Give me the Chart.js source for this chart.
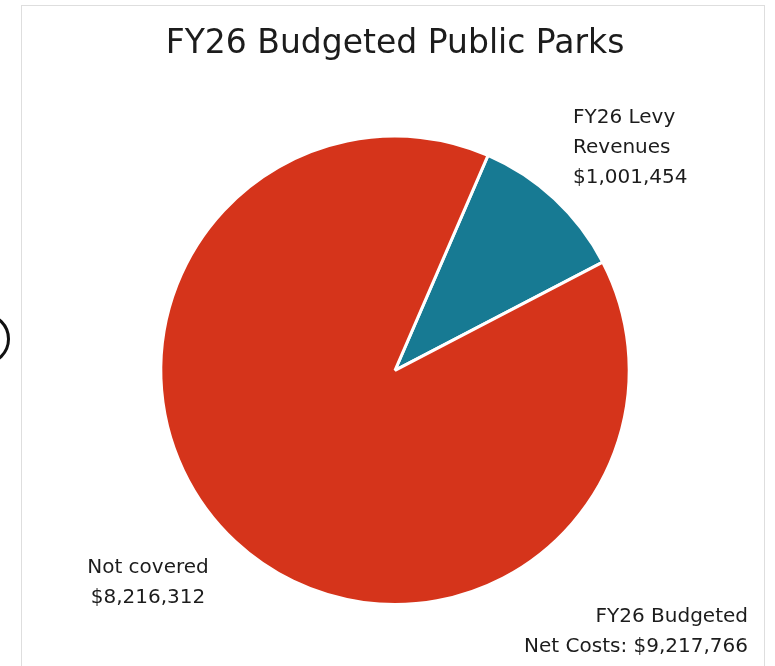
<!DOCTYPE html>
<html>
<head>
<meta charset="utf-8">
<script src="https://cdn.jsdelivr.net/npm/chart.js@4/dist/chart.umd.min.js"></script>
<style>
  html, body { margin: 0; padding: 0; background: #fff; overflow: hidden; }
  #wrap { position: relative; width: 775px; height: 666px; }
  #frame {
    position: absolute; left: 21px; top: 5px; width: 744px; height: 700px;
    border: 1px solid #dedede; box-sizing: border-box;
  }
  #dot {
    position: absolute; left: -42px; top: 313px; width: 46px; height: 46px;
    border: 3px solid #111; border-radius: 50%;
  }
  #canvasChart { position: absolute; left: 0; top: 0; }
</style>
</head>
<body>
<div id="wrap">
  <div id="frame"></div>
  <div id="dot"></div>
  <canvas id="canvasChart" width="775" height="666"></canvas>
</div>
<script>
var categories = ["FY26 Levy Revenues", "Not covered"];
var amounts = [1001454, 8216312];
var sliceColors = ["#177a93", "#d5341b"];

var fontFamily = "'DejaVu Sans', sans-serif";
var textColor = "#1c1c1c";

function money(v) {
  return "$" + v.toLocaleString("en-US");
}

var total = amounts.reduce(function (a, b) { return a + b; }, 0);

// text blocks around the pie
var labelBlocks = [
  { lines: ["FY26 Levy", "Revenues", money(amounts[0])], x: 573, y: 118, align: "left" },
  { lines: ["Not covered", money(amounts[1])], x: 148, y: 568, align: "center" },
  { lines: ["FY26 Budgeted", "Net Costs: " + money(total)], x: 748, y: 617, align: "right" }
];

var sliceLabels = {
  id: "sliceLabels",
  afterDraw: function (chart) {
    var ctx = chart.ctx;
    ctx.save();
    ctx.fillStyle = textColor;
    ctx.font = "20px " + fontFamily;
    ctx.textBaseline = "middle";
    labelBlocks.forEach(function (b) {
      ctx.textAlign = b.align;
      b.lines.forEach(function (line, i) {
        ctx.fillText(line, b.x, b.y + i * 30);
      });
    });
    ctx.restore();
  }
};

var chart = new Chart(document.getElementById("canvasChart"), {
  type: "pie",
  data: {
    labels: categories,
    datasets: [{
      data: amounts,
      backgroundColor: sliceColors,
      borderColor: "#ffffff",
      borderWidth: 3
    }]
  },
  options: {
    responsive: false,
    animation: false,
    rotation: 23.4,
    layout: { padding: { left: 15, right: 0, top: 0, bottom: 60 } },
    plugins: {
      legend: { display: false },
      tooltip: { enabled: false },
      title: {
        display: true,
        text: "FY26 Budgeted Public Parks",
        color: textColor,
        font: { family: fontFamily, size: 33, weight: "normal", lineHeight: 1.2 },
        padding: { top: 25, bottom: 70 }
      }
    }
  },
  plugins: [sliceLabels]
});
</script>
</body>
</html>
